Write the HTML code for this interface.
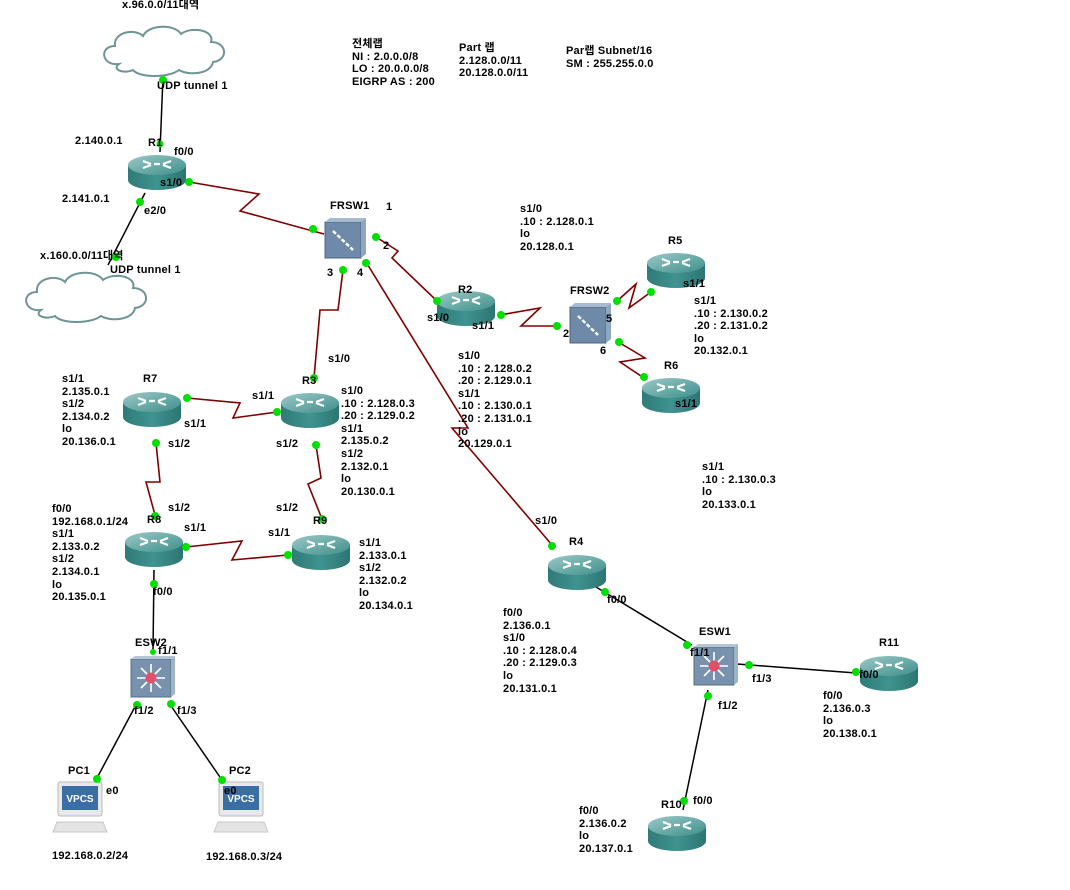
<!DOCTYPE html>
<html><head><meta charset="utf-8">
<style>
html,body{margin:0;padding:0;background:#fff;width:1070px;height:890px;overflow:hidden}
#c{position:relative;width:1070px;height:890px}
svg{position:absolute;left:0;top:0}
.t{position:absolute;font-family:"Liberation Sans","Noto Sans CJK KR",sans-serif;font-size:11px;line-height:12.6px;color:#000;white-space:pre;font-weight:bold;letter-spacing:0.2px}
</style></head><body><div id="c">
<svg width="1070" height="890" viewBox="0 0 1070 890">
<defs>
<linearGradient id="rg" x1="0" y1="0" x2="1" y2="0"><stop offset="0" stop-color="#2f7b78"/><stop offset="0.5" stop-color="#3f9390"/><stop offset="1" stop-color="#2c7572"/></linearGradient>
<linearGradient id="rt" x1="0" y1="0" x2="1" y2="1"><stop offset="0" stop-color="#9cc9c7"/><stop offset="1" stop-color="#3e8f8b"/></linearGradient>
<g id="rtr">
<path d="M-29,-7 L-29,8 A29,10 0 0 0 29,8 L29,-7 Z" fill="url(#rg)"/>
<ellipse cx="0" cy="-7" rx="29" ry="10" fill="url(#rt)"/>
<path d="M-14,-11 l8,3 M-14,-4 l8,-3 M14,-11 l-8,3 M14,-4 l-8,-3 M-3,-8 h6" stroke="#fff" stroke-width="2.2" fill="none"/>
</g>
<g id="frs">
<rect x="0" y="0" width="36" height="36" fill="#6e8aa8" stroke="#4d6580"/>
<path d="M36,0 l5,-4 v36 l-5,4 z" fill="#8ea6bf"/><path d="M0,0 l5,-4 h36 l-5,4 z" fill="#a6bacf"/>
<path d="M8,9 L28,28" stroke="#fff" stroke-width="2.5" stroke-dasharray="4,2"/>
</g>
<g id="esw">
<rect x="0" y="0" width="40" height="38" fill="#7892ad" stroke="#566e88"/>
<path d="M40,0 l4,-3 v38 l-4,3 z" fill="#9fb3c9"/><path d="M0,0 l4,-3 h40 l-4,3 z" fill="#b7c6d6"/>
<g stroke="#fff" stroke-width="1.6"><path d="M20,5 V33 M6,19 H34 M10,9 L30,29 M30,9 L10,29"/></g>
<circle cx="20" cy="19" r="5.5" fill="#e0506a"/>
</g>
<g id="pc">
<rect x="4" y="0" width="44" height="34" rx="2" fill="#e8e8e8" stroke="#bbb"/>
<rect x="8" y="4" width="36" height="24" fill="#3a6ea5"/>
<text x="26" y="20" font-family="Liberation Sans" font-size="10" font-weight="bold" fill="#fff" text-anchor="middle">VPCS</text>
<path d="M3,40 h46 l4,10 h-54 z" fill="#e4e4e4" stroke="#c8c8c8"/>
</g>
<g id="cloud">
<path d="M20,40 C2,42 0,22 16,22 C14,8 36,4 44,12 C50,0 76,0 82,10 C92,2 116,6 112,18 C128,18 130,36 114,38 C112,50 90,52 80,46 C70,54 40,54 34,46 C26,50 12,46 20,40 Z" fill="#fff" stroke="#6e9494" stroke-width="2"/>
</g>
</defs>
<g stroke="#000" stroke-width="1.5" fill="none">
<path d="M163,76 L160,152"/><path d="M145,193 L108,265"/>
<path d="M154,570 L153,652"/><path d="M137,703 L97,778"/><path d="M169,703 L222,780"/>
<path d="M596,587 L692,645"/><path d="M737,664 L856,673"/><path d="M708,690 L683,810"/>
</g>
<g stroke="#800000" stroke-width="1.6" fill="none">
<path d="M189,182 L259,194 L240,211 L309,230 L324,234"/>
<path d="M376,237 L398,251 L392,258 L437,301"/>
<path d="M343,270 L338,310 L320,310 L314,378"/>
<path d="M366,262 L468,428 L452,428 L552,545"/>
<path d="M500,315 L540,308 L521,326 L555,326"/>
<path d="M616,302 L636,284 L629,308 L651,292"/>
<path d="M620,343 L645,358 L620,362 L644,378"/>
<path d="M187,398 L240,403 L233,418 L277,412"/>
<path d="M156,443 L160,482 L146,482 L155,515"/>
<path d="M316,445 L321,478 L308,484 L322,519"/>
<path d="M186,547 L242,541 L232,560 L288,555"/>
</g>
<use href="#cloud" x="99" y="24"/><use href="#cloud" x="21" y="270"/>
<use href="#rtr" x="157" y="172"/><use href="#rtr" x="466" y="308"/><use href="#rtr" x="310" y="410"/>
<use href="#rtr" x="676" y="270"/><use href="#rtr" x="671" y="395"/><use href="#rtr" x="152" y="409"/>
<use href="#rtr" x="154" y="549"/><use href="#rtr" x="321" y="552"/><use href="#rtr" x="577" y="572"/>
<use href="#rtr" x="889" y="673"/><use href="#rtr" x="677" y="833"/>
<use href="#frs" x="325" y="222"/><use href="#frs" x="570" y="307"/>
<use href="#esw" x="131" y="659"/><use href="#esw" x="694" y="647"/>
<use href="#pc" x="54" y="782"/><use href="#pc" x="215" y="782"/>
<g fill="#00e000">
<circle cx="163" cy="80" r="4"/><circle cx="116" cy="257" r="4"/><circle cx="140" cy="202" r="4"/><circle cx="160" cy="144" r="3.5"/>
<circle cx="189" cy="182" r="4"/><circle cx="313" cy="229" r="4"/><circle cx="376" cy="237" r="4"/><circle cx="343" cy="270" r="4"/><circle cx="366" cy="263" r="4"/>
<circle cx="437" cy="301" r="4"/><circle cx="501" cy="315" r="4"/><circle cx="557" cy="326" r="4"/><circle cx="617" cy="301" r="4"/><circle cx="651" cy="292" r="4"/>
<circle cx="619" cy="342" r="4"/><circle cx="644" cy="377" r="4"/><circle cx="314" cy="378" r="4"/>
<circle cx="187" cy="398" r="4"/><circle cx="277" cy="412" r="4"/><circle cx="156" cy="443" r="4"/><circle cx="316" cy="445" r="4"/>
<circle cx="155" cy="516" r="4"/><circle cx="322" cy="519" r="4"/><circle cx="186" cy="547" r="4"/><circle cx="288" cy="555" r="4"/>
<circle cx="552" cy="546" r="4"/><circle cx="154" cy="584" r="4"/><circle cx="153" cy="652" r="3"/><circle cx="137" cy="705" r="4"/><circle cx="171" cy="704" r="4"/>
<circle cx="97" cy="779" r="4"/><circle cx="222" cy="780" r="4"/><circle cx="605" cy="592" r="4"/><circle cx="687" cy="645" r="4"/>
<circle cx="749" cy="665" r="4"/><circle cx="856" cy="672" r="4"/><circle cx="708" cy="696" r="4"/><circle cx="684" cy="801" r="4"/>
</g>
</svg>
<div class="t" style="left:122px;top:-1px">x.96.0.0/11대역</div>
<div class="t" style="left:157px;top:80px">UDP tunnel 1</div>
<div class="t" style="left:75px;top:135px">2.140.0.1</div>
<div class="t" style="left:148px;top:137px">R1</div>
<div class="t" style="left:174px;top:146px">f0/0</div>
<div class="t" style="left:160px;top:177px">s1/0</div>
<div class="t" style="left:62px;top:193px">2.141.0.1</div>
<div class="t" style="left:144px;top:205px">e2/0</div>
<div class="t" style="left:40px;top:250px">x.160.0.0/11대역</div>
<div class="t" style="left:110px;top:264px">UDP tunnel 1</div>
<div class="t" style="left:330px;top:200px">FRSW1</div>
<div class="t" style="left:386px;top:201px">1</div>
<div class="t" style="left:383px;top:240px">2</div>
<div class="t" style="left:327px;top:267px">3</div>
<div class="t" style="left:357px;top:267px">4</div>
<div class="t" style="left:352px;top:38px">전체랩
NI : 2.0.0.0/8
LO : 20.0.0.0/8
EIGRP AS : 200</div>
<div class="t" style="left:459px;top:42px">Part 랩
2.128.0.0/11
20.128.0.0/11</div>
<div class="t" style="left:566px;top:45px">Par랩 Subnet/16
SM : 255.255.0.0</div>
<div class="t" style="left:520px;top:203px">s1/0
.10 : 2.128.0.1
lo
20.128.0.1</div>
<div class="t" style="left:668px;top:235px">R5</div>
<div class="t" style="left:683px;top:278px">s1/1</div>
<div class="t" style="left:694px;top:295px">s1/1
.10 : 2.130.0.2
.20 : 2.131.0.2
lo
20.132.0.1</div>
<div class="t" style="left:570px;top:285px">FRSW2</div>
<div class="t" style="left:606px;top:313px">5</div>
<div class="t" style="left:563px;top:328px">2</div>
<div class="t" style="left:600px;top:345px">6</div>
<div class="t" style="left:458px;top:284px">R2</div>
<div class="t" style="left:427px;top:312px">s1/0</div>
<div class="t" style="left:472px;top:320px">s1/1</div>
<div class="t" style="left:458px;top:350px">s1/0
.10 : 2.128.0.2
.20 : 2.129.0.1
s1/1
.10 : 2.130.0.1
.20 : 2.131.0.1
lo
20.129.0.1</div>
<div class="t" style="left:664px;top:360px">R6</div>
<div class="t" style="left:675px;top:398px">s1/1</div>
<div class="t" style="left:328px;top:353px">s1/0</div>
<div class="t" style="left:302px;top:375px">R3</div>
<div class="t" style="left:341px;top:385px">s1/0
.10 : 2.128.0.3
.20 : 2.129.0.2
s1/1
2.135.0.2
s1/2
2.132.0.1
lo
20.130.0.1</div>
<div class="t" style="left:252px;top:390px">s1/1</div>
<div class="t" style="left:276px;top:438px">s1/2</div>
<div class="t" style="left:143px;top:373px">R7</div>
<div class="t" style="left:62px;top:373px">s1/1
2.135.0.1
s1/2
2.134.0.2
lo
20.136.0.1</div>
<div class="t" style="left:184px;top:418px">s1/1</div>
<div class="t" style="left:168px;top:438px">s1/2</div>
<div class="t" style="left:168px;top:502px">s1/2</div>
<div class="t" style="left:276px;top:502px">s1/2</div>
<div class="t" style="left:52px;top:503px">f0/0
192.168.0.1/24
s1/1
2.133.0.2
s1/2
2.134.0.1
lo
20.135.0.1</div>
<div class="t" style="left:147px;top:514px">R8</div>
<div class="t" style="left:184px;top:522px">s1/1</div>
<div class="t" style="left:268px;top:527px">s1/1</div>
<div class="t" style="left:313px;top:515px">R9</div>
<div class="t" style="left:359px;top:537px">s1/1
2.133.0.1
s1/2
2.132.0.2
lo
20.134.0.1</div>
<div class="t" style="left:153px;top:586px">f0/0</div>
<div class="t" style="left:135px;top:637px">ESW2</div>
<div class="t" style="left:158px;top:645px">f1/1</div>
<div class="t" style="left:134px;top:705px">f1/2</div>
<div class="t" style="left:177px;top:705px">f1/3</div>
<div class="t" style="left:68px;top:765px">PC1</div>
<div class="t" style="left:106px;top:785px">e0</div>
<div class="t" style="left:229px;top:765px">PC2</div>
<div class="t" style="left:224px;top:785px">e0</div>
<div class="t" style="left:52px;top:850px">192.168.0.2/24</div>
<div class="t" style="left:206px;top:851px">192.168.0.3/24</div>
<div class="t" style="left:702px;top:461px">s1/1
.10 : 2.130.0.3
lo
20.133.0.1</div>
<div class="t" style="left:535px;top:515px">s1/0</div>
<div class="t" style="left:569px;top:536px">R4</div>
<div class="t" style="left:607px;top:594px">f0/0</div>
<div class="t" style="left:503px;top:607px">f0/0
2.136.0.1
s1/0
.10 : 2.128.0.4
.20 : 2.129.0.3
lo
20.131.0.1</div>
<div class="t" style="left:699px;top:626px">ESW1</div>
<div class="t" style="left:690px;top:647px">f1/1</div>
<div class="t" style="left:752px;top:673px">f1/3</div>
<div class="t" style="left:718px;top:700px">f1/2</div>
<div class="t" style="left:879px;top:637px">R11</div>
<div class="t" style="left:859px;top:669px">f0/0</div>
<div class="t" style="left:823px;top:690px">f0/0
2.136.0.3
lo
20.138.0.1</div>
<div class="t" style="left:661px;top:799px">R10</div>
<div class="t" style="left:693px;top:795px">f0/0</div>
<div class="t" style="left:579px;top:805px">f0/0
2.136.0.2
lo
20.137.0.1</div>
</div></body></html>
